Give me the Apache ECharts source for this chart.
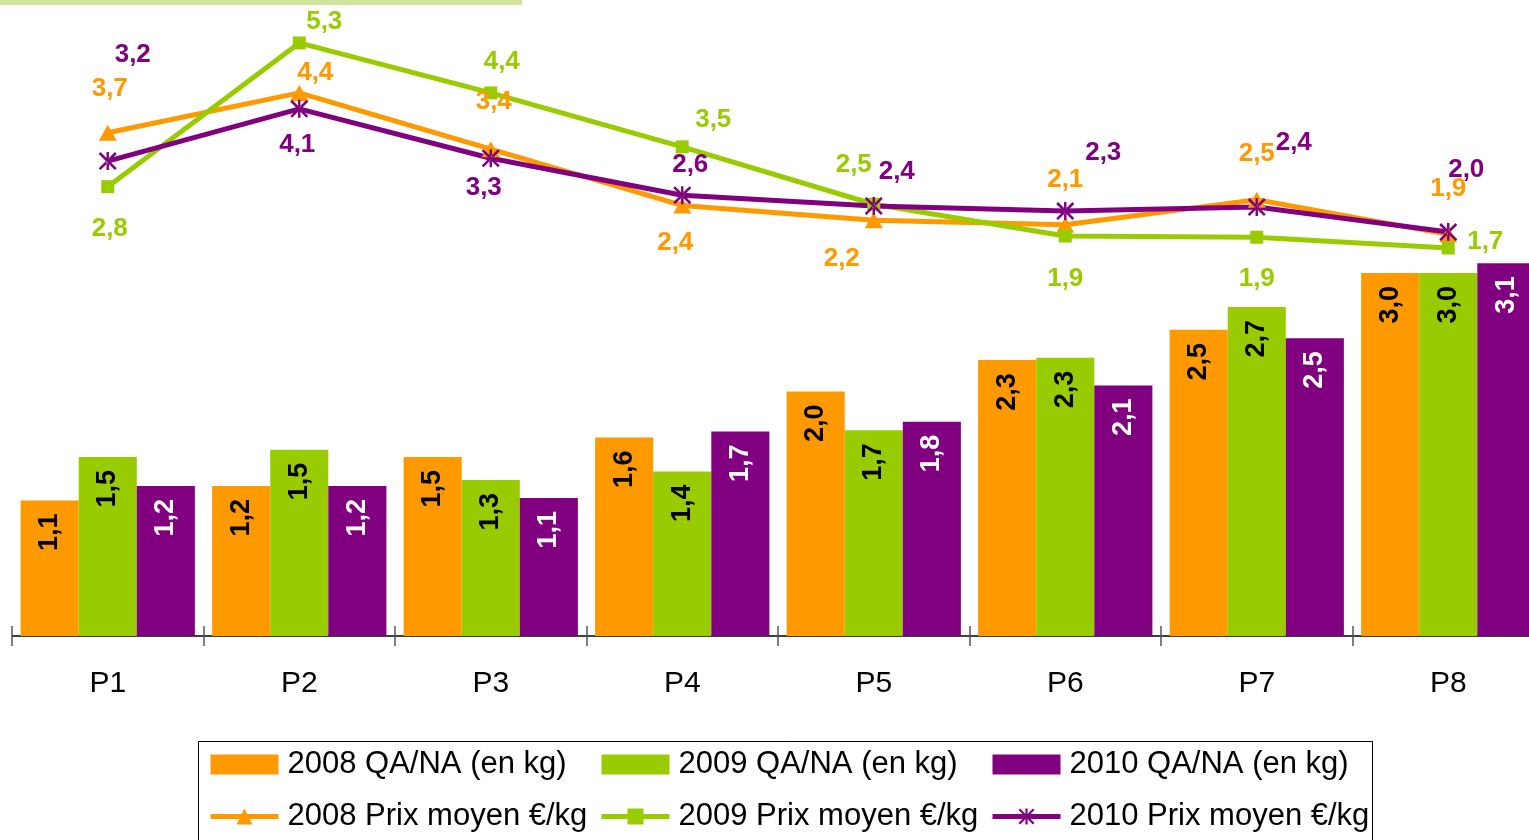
<!DOCTYPE html>
<html>
<head>
<meta charset="utf-8">
<title>QA/NA et prix moyen</title>
<script src="https://cdn.jsdelivr.net/npm/echarts@6/dist/echarts.min.js"></script>
<style>
  html, body { margin: 0; padding: 0; background: #fff; overflow: hidden; }
  /* the plot runs past the right edge in the original, so the canvas is a bit wider than the window */
  #chart { width: 1552px; height: 840px; }
</style>
</head>
<body>
<div id="chart"></div>
<script>
  // categories
  var periods = ['P1', 'P2', 'P3', 'P4', 'P5', 'P6', 'P7', 'P8'];

  // QA/NA (en kg) - bars
  var qa2008 = [1.12, 1.24, 1.48, 1.64, 2.02, 2.28, 2.53, 3.00];
  var qa2009 = [1.48, 1.54, 1.29, 1.36, 1.70, 2.30, 2.72, 3.00];
  var qa2010 = [1.24, 1.24, 1.14, 1.69, 1.77, 2.07, 2.46, 3.08];

  // Prix moyen €/kg - lines
  var prix2008 = [3.72, 4.42, 3.43, 2.44, 2.18, 2.10, 2.54, 1.93];
  var prix2009 = [2.77, 5.30, 4.42, 3.47, 2.46, 1.90, 1.88, 1.69];
  var prix2010 = [3.22, 4.14, 3.27, 2.62, 2.43, 2.34, 2.41, 1.97];

  var names = {
    qa2008: '2008 QA/NA (en kg)',
    qa2009: '2009 QA/NA (en kg)',
    qa2010: '2010 QA/NA (en kg)',
    p2008: '2008 Prix moyen €/kg',
    p2009: '2009 Prix moyen €/kg',
    p2010: '2010 Prix moyen €/kg'
  };

  var ORANGE = '#FF9900', GREEN = '#99CC00', PURPLE = '#800080';
  var FONT = 'Liberation Sans, Arial, sans-serif';

  // where each line label sits around its point (like the hand-moved excel labels)
  var off2008 = [[2,-44],[16,-20],[3,-47],[-7,37],[-32,39],[0,-45],[0,-46],[0,-46]];
  var off2009 = [[2,42],[25,-21],[11,-31],[31,-27],[-20,-39],[0,43],[0,42],[37,-6]];
  var off2010 = [[25,-106],[-2,36],[-7,30],[8,-30],[23,-34],[38,-58],[37,-64],[18,-62]];

  // asterisk marker (x + vertical stroke)
  var asterisk = 'path://M0,1.2L1.2,0L12,10.8L10.8,12Z M12,1.2L10.8,0L0,10.8L1.2,12Z M5.2,0L6.8,0L6.8,12L5.2,12Z';

  function fmt(p) {
    return p.value.toFixed(1).replace('.', ',');
  }

  function barSeries(name, values, color, textColor) {
    return {
      name: name,
      type: 'bar',
      xAxisIndex: 0,
      yAxisIndex: 0,
      barGap: '0%',
      barCategoryGap: '9%',
      itemStyle: { color: color },
      label: {
        show: true,
        position: 'insideTop',
        distance: 13,
        rotate: 90,
        align: 'right',
        verticalAlign: 'middle',
        color: textColor,
        fontFamily: FONT,
        fontWeight: 'bold',
        fontSize: 27,
        formatter: fmt
      },
      data: values
    };
  }

  function lineSeries(name, values, color, symbol, size, offsets) {
    return {
      name: name,
      type: 'line',
      xAxisIndex: 0,
      yAxisIndex: 1,
      symbol: symbol,
      symbolSize: size,
      lineStyle: { color: color, width: 5 },
      itemStyle: { color: color },
      label: {
        show: true,
        position: 'inside',
        color: color,
        fontFamily: FONT,
        fontWeight: 'bold',
        fontSize: 26,
        formatter: fmt
      },
      data: values.map(function (v, i) {
        return { value: v, label: { offset: offsets[i] } };
      }),
      z: 3
    };
  }

  function legendCol(left, items) {
    return {
      orient: 'vertical',
      left: left,
      top: 749,
      itemWidth: 68,
      itemHeight: 20,
      itemGap: 21,
      padding: 0,
      lineStyle: { width: 5 },
      textStyle: {
        fontFamily: FONT,
        fontSize: 31,
        color: '#000',
        lineHeight: 30,
        padding: [0, 0, 0, 4]
      },
      data: [{ name: items[0], icon: 'rect' }, { name: items[1] }]
    };
  }

  var chart = echarts.init(document.getElementById('chart'));

  chart.setOption({
    backgroundColor: '#fff',
    animation: false,
    grid: [
      { left: 12, top: 31, width: 1532, height: 605 },
      { left: 12, top: 31, width: 1532, height: 605 }
    ],
    legend: [
      legendCol(208, [names.qa2008, names.p2008]),
      legendCol(599, [names.qa2009, names.p2009]),
      legendCol(990, [names.qa2010, names.p2010])
    ],
    graphic: [
      { type: 'rect', left: 0, top: 0, shape: { width: 522, height: 5 }, style: { fill: '#cfe69a' } },
      { type: 'rect', left: 196, top: 739, shape: { width: 1174, height: 120 },
        style: { fill: 'none', stroke: '#000', lineWidth: 1 } }
    ],
    xAxis: [
      {
        type: 'category',
        gridIndex: 0,
        data: periods,
        axisLine: { lineStyle: { color: '#000', width: 1.5 } },
        axisTick: { show: true, length: 10, lineStyle: { color: '#555', width: 1.5 } },
        axisLabel: { fontFamily: FONT, fontSize: 30, color: '#000', margin: 33 }
      },
      {
        type: 'category',
        gridIndex: 1,
        data: periods,
        axisLine: { show: false },
        axisTick: { show: true, inside: true, length: 10, lineStyle: { color: '#555', width: 1.5 } },
        axisLabel: { show: false }
      }
    ],
    yAxis: [
      { type: 'value', gridIndex: 0, min: 0, max: 5, show: false, splitLine: { show: false } },
      { type: 'value', gridIndex: 0, min: -5.14, max: 5.51, show: false, splitLine: { show: false } },
      { type: 'value', gridIndex: 1, min: 0, max: 5, show: false, splitLine: { show: false } }
    ],
    series: [
      barSeries(names.qa2008, qa2008, ORANGE, '#000'),
      barSeries(names.qa2009, qa2009, GREEN, '#000'),
      barSeries(names.qa2010, qa2010, PURPLE, '#fff'),
      lineSeries(names.p2008, prix2008, ORANGE, 'triangle', [18, 16], off2008),
      lineSeries(names.p2009, prix2009, GREEN, 'rect', 13, off2009),
      lineSeries(names.p2010, prix2010, PURPLE, asterisk, 18, off2010)
    ]
  });
</script>
</body>
</html>
